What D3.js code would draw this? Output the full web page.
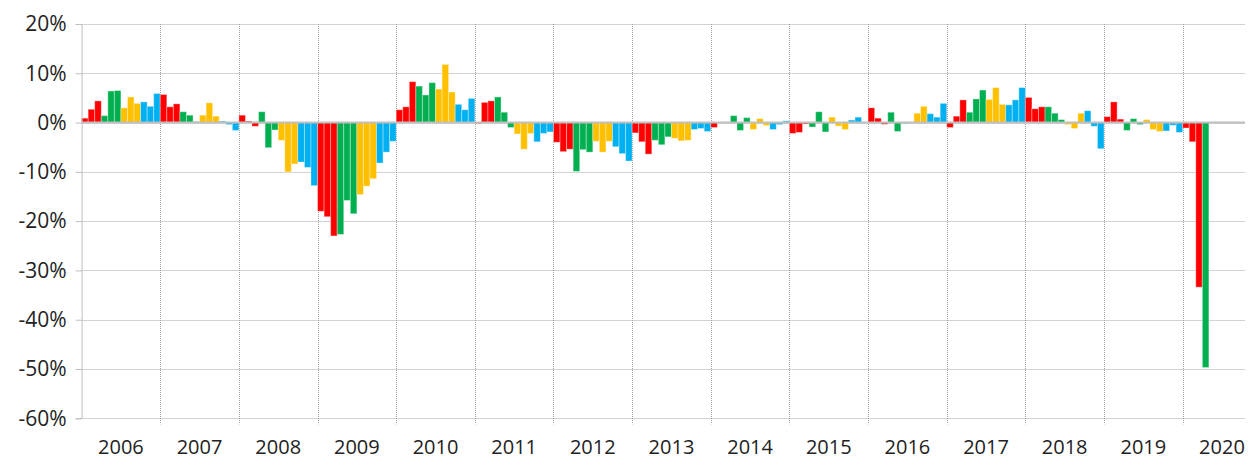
<!DOCTYPE html>
<html>
<head>
<meta charset="utf-8">
<script src="https://cdn.jsdelivr.net/npm/d3@7"></script>
<style>
  body { margin: 0; background: #fff; }
  text { font-family: "Open Sans", "Noto Sans", sans-serif; fill: #222; }
</style>
</head>
<body>
<div id="chart"></div>
<script>
// year labels along the bottom
var years = ["2006", "2007", "2008", "2009", "2010", "2011", "2012", "2013",
  "2014", "2015", "2016", "2017", "2018", "2019", "2020"];
// monthly change in %, Jan 2006 .. Apr 2020
var monthly = [
  // 2006
  0.9, 2.7, 4.4, 1.4, 6.4, 6.5, 3.0, 5.2, 3.9, 4.2, 3.3, 5.9,
  // 2007
  5.7, 3.2, 3.8, 2.2, 1.5, 0.2, 1.5, 4.0, 1.3, 0.3, -0.4, -1.6,
  // 2008
  1.5, 0.3, -0.75, 2.2, -5.1, -1.5, -3.6, -10.0, -8.4, -8.0, -9.1, -12.8,
  // 2009
  -18.0, -19.1, -23.0, -22.7, -15.8, -18.5, -14.6, -12.9, -11.4, -8.2, -6.0, -3.8,
  // 2010
  2.6, 3.2, 8.3, 7.4, 5.6, 8.1, 6.8, 11.8, 6.2, 3.7, 2.6, 4.9,
  // 2011
  -0.2, 4.1, 4.4, 5.2, 2.1, -1.0, -2.3, -5.4, -2.2, -3.9, -2.2, -1.9,
  // 2012
  -4.0, -5.9, -5.4, -9.9, -5.5, -6.0, -3.8, -6.0, -3.8, -4.9, -6.3, -7.8,
  // 2013
  -2.1, -3.9, -6.4, -3.6, -4.5, -2.9, -3.2, -3.7, -3.6, -1.4, -1.2, -1.8,
  // 2014
  -1.0, -0.1, 0.1, 1.4, -1.6, 1.0, -1.4, 0.8, -0.6, -1.4, -0.4, 0.35,
  // 2015
  -2.2, -2.0, -0.3, -0.9, 2.2, -1.9, 1.1, -0.7, -1.4, 0.5, 1.1, -0.1,
  // 2016
  3.0, 0.9, -0.35, 2.1, -1.8, -0.2, 0.1, 1.9, 3.3, 1.8, 1.1, 3.9,
  // 2017
  -1.0, 1.3, 4.6, 2.1, 4.8, 6.6, 4.7, 7.1, 3.7, 3.6, 4.6, 7.1,
  // 2018
  5.1, 2.8, 3.2, 3.2, 1.9, 0.6, -0.4, -1.2, 1.9, 2.4, -0.75, -5.3,
  // 2019
  1.2, 4.2, 0.7, -1.6, 0.8, -0.4, 0.6, -1.4, -1.8, -1.7, -0.55, -2.0,
  // 2020
  -1.1, -3.9, -33.4, -49.7
];
// quarter colours: Q1, Q2, Q3, Q4
var quarterColors = ["#ff0000", "#00b050", "#ffc000", "#00b0f0"];
var yTicks = [20, 10, 0, -10, -20, -30, -40, -50, -60];

var width = 1252, height = 461;
var plotLeft = 81.6, plotRight = 1245, plotTop = 24, plotBottom = 418.3;
var monthStep = 6.554;

var svg = d3.select("#chart").append("svg")
  .attr("width", width).attr("height", height);

// x: month index, full years to end of 2020
var x = d3.scaleLinear().domain([0, 180]).range([plotLeft, plotLeft + 180 * monthStep]);
var y = d3.scaleLinear().domain([-60, 20]).range([plotBottom, plotTop]);

// horizontal gridlines
svg.append("g").selectAll("line").data(yTicks).enter().append("line")
  .attr("x1", plotLeft).attr("x2", plotRight)
  .attr("y1", function(d) { return Math.round(y(d)) + 0.5; })
  .attr("y2", function(d) { return Math.round(y(d)) + 0.5; })
  .attr("stroke", "#a8a8a8").attr("stroke-width", 1)
  .attr("stroke-dasharray", "1,1");

// year separators
svg.append("g").selectAll("line").data(d3.range(1, years.length)).enter().append("line")
  .attr("x1", function(d) { return Math.round(x(d * 12)) + 0.5; })
  .attr("x2", function(d) { return Math.round(x(d * 12)) + 0.5; })
  .attr("y1", plotTop).attr("y2", plotBottom + 6)
  .attr("stroke", "#a0a0a0").attr("stroke-width", 1)
  .attr("stroke-dasharray", "1,1");

// bars
svg.append("g").selectAll("rect").data(monthly).enter().append("rect")
  .attr("x", function(d, i) { return x(i); })
  .attr("width", monthStep)
  .attr("y", function(d) { return y(Math.max(0, d)); })
  .attr("height", function(d) { return Math.abs(y(d) - y(0)); })
  .attr("fill", function(d, i) { return quarterColors[Math.floor((i % 12) / 3)]; })
  .attr("stroke", "rgba(255,255,255,0.35)").attr("stroke-width", 1);

// zero line on top of bars
svg.append("line")
  .attr("x1", plotLeft).attr("x2", plotRight)
  .attr("y1", y(0)).attr("y2", y(0))
  .attr("stroke", "#bfbfbf").attr("stroke-width", 2);

// y axis
var yAxis = d3.axisLeft(y).tickValues(yTicks).tickSize(6).tickPadding(9)
  .tickFormat(function(d) { return d + "%"; });
var gy = svg.append("g").attr("transform", "translate(" + plotLeft + ",0)").call(yAxis);
gy.select(".domain").attr("stroke", "#bfbfbf");
gy.selectAll(".tick line").attr("stroke", "#bfbfbf");
gy.selectAll("text").style("font-size", "21px").attr("fill", "#222");

// year labels
svg.append("g").selectAll("text").data(years).enter().append("text")
  .attr("x", function(d, i) { return x(i * 12 + 6); })
  .attr("y", 454)
  .attr("text-anchor", "middle")
  .style("font-size", "20px")
  .text(function(d) { return d; });
</script>
</body>
</html>
